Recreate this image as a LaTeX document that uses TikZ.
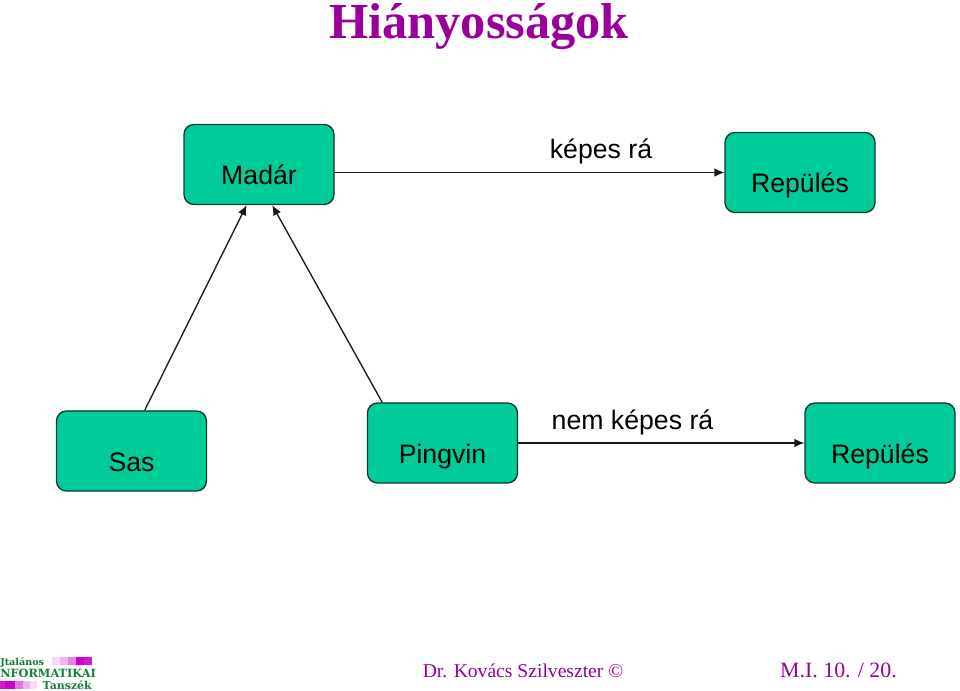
\documentclass[tikz,border=0pt]{standalone}
\usepackage{fontspec}
\usepackage{xcolor}
\setmainfont{Liberation Serif}
\setsansfont{Liberation Sans}
\newfontfamily\logofont{DejaVu Serif}[BoldFont={DejaVu Serif Bold}]
\definecolor{boxgreen}{HTML}{00CC99}
\definecolor{boxline}{HTML}{0A3A30}
\definecolor{titlepurple}{HTML}{990099}
\definecolor{logogreen}{HTML}{0F8038}
\definecolor{logopink}{HTML}{CC00CC}
\usetikzlibrary{arrows.meta}

\begin{document}
\begin{tikzpicture}[x=0.75pt,y=-0.75pt,
    box/.style={draw=boxline,fill=boxgreen,rounded corners=7.5pt,line width=1pt,
      minimum width=112.5pt,inner xsep=0pt,inner ysep=0pt,
      text height=45pt,text depth=15pt,font=\sffamily\fontsize{20}{24}\selectfont},
    link/.style={draw=black!90,line width=1pt,-{Latex[length=7.5pt,width=6.5pt]}},
    linklabel/.style={anchor=base,inner sep=0pt,font=\sffamily\fontsize{20}{24}\selectfont},
    footer/.style={anchor=base,inner sep=0pt,text=titlepurple},
    logotext/.style={inner sep=0pt,text=logogreen,font=\logofont\bfseries\fontsize{#1}{9}\selectfont}]
    \useasboundingbox (0,0) rectangle (960,691);
    \node [anchor=base,inner sep=0pt,text=titlepurple,font=\bfseries\fontsize{37.8}{44}\selectfont] (title) at (479,39) {Hiányosságok};
    \node [box] (madar) at (259,164.5) {Madár};
    \node [box] (repules) at (800,172.5) {Repülés};
    \node [box] (sas) at (131.5,451) {Sas};
    \node [box] (pingvin) at (442.5,443) {Pingvin};
    \node [box] (nemrepules) at (880,443) {Repülés};
    \draw [link] (madar.east |- repules.west) -- (repules.west);
    \draw [link] (sas.72.6) -- (madar.253.5);
    \draw [link] (pingvin.146.5) -- (madar.288);
    \draw [link] (pingvin.east) -- (nemrepules.west);
    \node [linklabel] (kepes) at (601,159) {képes rá};
    \node [linklabel] (nemkepes) at (632.5,429) {nem képes rá};
    \node [footer,font=\fontsize{14.7}{18}\selectfont] (szerzo) at (523,677) {Dr. Kovács Szilveszter ©};
    \node [footer,font=\fontsize{16.4}{19}\selectfont] (oldal) at (838.5,677) {M.I. 10. / 20.};
    % logo
    \foreach \xa/\xb/\shade in {52/60/15,60/68/30,68/76/50,76/84/100,84/92/90}
      \fill [logopink!\shade] (\xa,657) rectangle (\xb,665);
    \foreach \xa/\xb/\shade in {0/5/90,5/15/100,15/23/55,23/30/30,30/37/15}
      \fill [logopink!\shade] (\xa,681) rectangle (\xb,689);
    \node [logotext=7.2,anchor=base west] (logoa) at (0,665) {Jtalános};
    \node [logotext=8.5,anchor=base west] (logob) at (0,677) {NFORMATIKAI};
    \node [logotext=8.2,anchor=base east] (logoc) at (92,689) {Tanszék};
\end{tikzpicture}
\end{document}
